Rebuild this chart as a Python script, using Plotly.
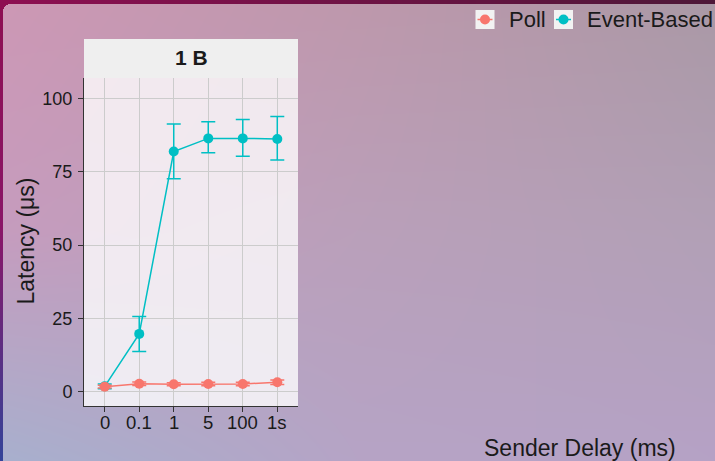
import numpy as np, zlib, struct, base64
import plotly.graph_objects as go

# ---------------- data ----------------
delays = ["0", "0.1", "1", "5", "100", "1s"]
poll_mean = [1.7, 2.7, 2.5, 2.6, 2.6, 3.2]
poll_upper = [2.2, 3.3, 3.0, 3.2, 3.2, 4.0]
poll_lower = [1.2, 2.1, 2.0, 2.0, 2.0, 2.4]
event_mean = [1.8, 19.7, 81.9, 86.4, 86.4, 86.2]
event_upper = [2.6, 25.6, 91.3, 92.1, 92.8, 93.9]
event_lower = [1.0, 13.7, 72.6, 81.5, 80.3, 79.0]
y_ticks = [0, 25, 50, 75, 100]
series_names = ["Poll", "Event-Based"]
POLL_C = "#F8766D"
EVENT_C = "#00BFC4"

W, H = 715, 461

# ---------------- background image (gradient + frame) ----------------
grid = np.array([
    [[205, 152, 181], [190, 152, 172], [170, 153, 166]],
    [[198, 156, 190], [186, 160, 186], [178, 160, 182]],
    [[168, 176, 206], [182, 164, 198], [182, 162, 198]],
], dtype=float)
xs = np.linspace(0, 2, W)
ys = np.linspace(0, 2, H)
ix = np.clip(np.floor(xs).astype(int), 0, 1); tx = xs - ix
iy = np.clip(np.floor(ys).astype(int), 0, 1); ty = ys - iy
c00 = grid[iy][:, ix]; c01 = grid[iy][:, ix + 1]
c10 = grid[iy + 1][:, ix]; c11 = grid[iy + 1][:, ix + 1]
TX = tx[None, :, None]; TY = ty[:, None, None]
img = (c00 * (1 - TX) * (1 - TY) + c01 * TX * (1 - TY) + c10 * (1 - TX) * TY + c11 * TX * TY)

top_l = np.array([142, 15, 82.]); top_r = np.array([78, 24, 56.])
left_mid = np.array([138, 22, 104.]); left_bot = np.array([52, 68, 154.])
tcol = top_l[None, :] * (1 - np.linspace(0, 1, W)[:, None]) + top_r[None, :] * np.linspace(0, 1, W)[:, None]
img[0:4, :, :] = tcol[None, :, :]
yy = np.linspace(0, 1, H)
lcol = np.where(yy[:, None] < 0.5,
                top_l[None, :] * (1 - yy[:, None] * 2) + left_mid[None, :] * (yy[:, None] * 2),
                left_mid[None, :] * (2 - yy[:, None] * 2) + left_bot[None, :] * (yy[:, None] * 2 - 1))
img[:, 0:3, :] = lcol[:, None, :]
r = 8
cx, cy = 3 + r, 4 + r
for py_ in range(4, cy):
    for px_ in range(3, cx):
        if (px_ + 0.5 - cx) ** 2 + (py_ + 0.5 - cy) ** 2 > r * r:
            img[py_, px_, :] = top_l
img = np.clip(img, 0, 255).astype(np.uint8)


def png_uri(arr):
    h, w, _ = arr.shape
    raw = b"".join(b"\x00" + arr[i].tobytes() for i in range(h))

    def chunk(t, d):
        return struct.pack(">I", len(d)) + t + d + struct.pack(">I", zlib.crc32(t + d) & 0xffffffff)
    data = (b"\x89PNG\r\n\x1a\n" + chunk(b"IHDR", struct.pack(">IIBBBBB", w, h, 8, 2, 0, 0, 0))
            + chunk(b"IDAT", zlib.compress(raw, 9)) + chunk(b"IEND", b""))
    return "data:image/png;base64," + base64.b64encode(data).decode()


def px(x):
    return x / W


def py(y):
    return 1 - y / H


FONT = "Liberation Sans, Arial, Helvetica, sans-serif"

fig = go.Figure()


def add_series(name, mean, upper, lower, color):
    fig.add_trace(go.Scatter(
        x=delays, y=mean, name=name, mode="lines+markers",
        line=dict(color=color, width=1.5),
        marker=dict(color=color, size=10),
        error_y=dict(type="data", symmetric=False,
                     array=[u - m for u, m in zip(upper, mean)],
                     arrayminus=[m - l for m, l in zip(mean, lower)],
                     color=color, thickness=1.5, width=7),
        showlegend=False,
    ))


add_series(series_names[1], event_mean, event_upper, event_lower, EVENT_C)
add_series(series_names[0], poll_mean, poll_upper, poll_lower, POLL_C)

axis_common = dict(showline=True, linecolor="#333333", linewidth=1,
                   ticks="outside", ticklen=5, tickcolor="#333333", tickwidth=1,
                   gridcolor="#cccccc", gridwidth=1, zeroline=False,
                   tickfont=dict(family=FONT, size=18, color="#1a1a1a"))

fig.update_layout(
    width=W, height=H,
    margin=dict(l=0, r=0, t=0, b=0),
    paper_bgcolor="#b8a0b8",
    plot_bgcolor="rgba(0,0,0,0)",
    xaxis=dict(domain=[px(84), px(298)], type="category", categoryorder="array",
               categoryarray=delays, range=[-0.6, 5.6], showticklabels=False, **axis_common),
    yaxis=dict(domain=[py(406), py(78)], range=[-4.9, 107], tickvals=y_ticks,
               ticklabelstandoff=2, **axis_common),
    images=[dict(source=png_uri(img), xref="paper", yref="paper", x=0, y=1,
                 sizex=1, sizey=1, xanchor="left", yanchor="top",
                 sizing="stretch", layer="below")],
)

shapes = [
    # panel background
    dict(type="rect", xref="paper", yref="paper", x0=px(84), x1=px(298), y0=py(406), y1=py(78),
         fillcolor="rgba(255,255,255,0.78)", line=dict(width=0), layer="below"),
    # facet strip
    dict(type="rect", xref="paper", yref="paper", x0=px(84), x1=px(298), y0=py(78), y1=py(39),
         fillcolor="#efefef", line=dict(width=0), layer="below"),
]
# manual legend keys
for cxp, col in [(485, POLL_C), (563.5, EVENT_C)]:
    shapes.append(dict(type="rect", xref="paper", yref="paper", x0=px(cxp - 9.5), x1=px(cxp + 9.5),
                       y0=py(29), y1=py(10), fillcolor="#f2f2f2", line=dict(width=0)))
    shapes.append(dict(type="line", xref="paper", yref="paper", x0=px(cxp - 7.5), x1=px(cxp + 7.5),
                       y0=py(19.5), y1=py(19.5), line=dict(color=col, width=1.5)))
    shapes.append(dict(type="circle", xref="paper", yref="paper", x0=px(cxp - 5), x1=px(cxp + 5),
                       y0=py(24.5), y1=py(14.5), fillcolor=col, line=dict(width=0)))
fig.update_layout(shapes=shapes)

ann = [
    dict(text="<b>1 B</b>", x=px(191), y=py(58), font=dict(size=21)),
    dict(text="Latency (μs)", x=px(25), y=py(241.5), textangle=-90, font=dict(size=23)),
    dict(text="Sender Delay (ms)", x=px(580), y=py(448), font=dict(size=23)),
    dict(text=series_names[0], x=px(507), y=py(19.5), xanchor="left", font=dict(size=22)),
    dict(text=series_names[1], x=px(585), y=py(19.5), xanchor="left", font=dict(size=22)),
]
for a in ann:
    a.setdefault("xanchor", "center")
    a.update(xref="paper", yref="paper", yanchor="middle", showarrow=False)
    a["font"].update(family=FONT, color="#1a1a1a")
# x tick labels at the category positions (category index on the x axis)
for i, d in enumerate(delays):
    ann.append(dict(text=d, x=i, xref="x", y=py(422), yref="paper", yanchor="middle",
                    xanchor="center", showarrow=False,
                    font=dict(family=FONT, size=18.5, color="#1a1a1a")))
fig.update_layout(annotations=ann)

fig.write_html("out.html", config={"displayModeBar": False},
               post_script="document.body.style.margin='0';document.body.style.overflow='hidden';")
